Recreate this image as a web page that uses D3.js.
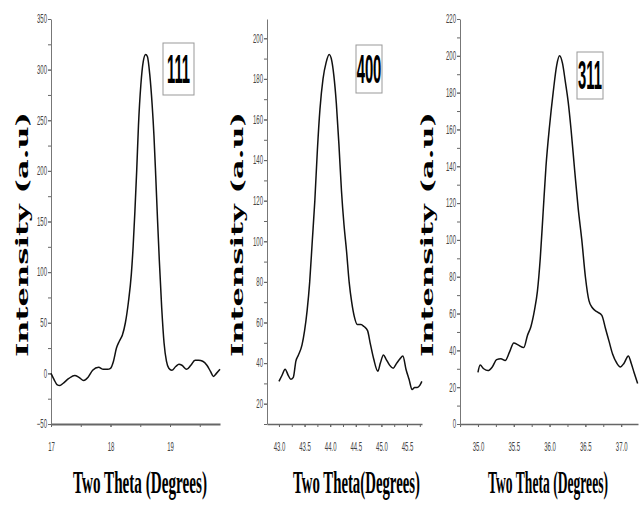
<!DOCTYPE html>
<html>
<head>
<meta charset="utf-8">
<script src="https://d3js.org/d3.v7.min.js"></script>
<style>
  body { margin: 0; background: #fff; }
</style>
</head>
<body>
<div id="chart"></div>
<script>
const width = 641
const height = 506

// (111) peak
const theta111 = [17.00, 17.05, 17.10, 17.15, 17.20, 17.30, 17.40, 17.47, 17.55, 17.62, 17.70, 17.80, 17.88, 17.95,
  18.00, 18.05, 18.10, 18.15, 18.20, 18.25, 18.30, 18.35, 18.38, 18.41, 18.44, 18.47, 18.51, 18.55, 18.59, 18.62,
  18.66, 18.70, 18.73, 18.76, 18.79, 18.82, 18.86, 18.90, 18.94, 18.98, 19.03, 19.10, 19.15, 19.20, 19.28, 19.35,
  19.42, 19.48, 19.55, 19.62, 19.68, 19.73, 19.78, 19.84];
const int111 = [0, -6, -11, -12, -10, -5, -2, -4, -7, -4, 3, 6, 4, 4,
  5, 12, 25, 32, 38, 50, 70, 98, 125, 160, 200, 245, 285, 308, 315, 313,
  295, 265, 235, 195, 152, 112, 65, 30, 12, 5, 3, 7, 9, 8, 4, 8,
  13, 13, 12, 8, 2, -3, 0, 4];

// (400) peak
const theta400 = [43.00, 43.06, 43.12, 43.18, 43.23, 43.28, 43.33, 43.38, 43.45, 43.50, 43.55, 43.60, 43.65, 43.70,
  43.75, 43.80, 43.86, 43.92, 43.98, 44.03, 44.07, 44.12, 44.17, 44.22, 44.27, 44.32, 44.37, 44.42, 44.47, 44.53,
  44.60, 44.66, 44.73, 44.78, 44.85, 44.93, 44.98, 45.04, 45.09, 45.16, 45.23, 45.30, 45.36, 45.42, 45.48, 45.54,
  45.60, 45.65, 45.70, 45.75, 45.79];
const int400 = [31, 34, 37, 34, 32, 33, 41, 44, 49, 56, 66, 80, 100, 120,
  145, 165, 180, 188, 192, 189, 182, 168, 148, 125, 108, 95, 80, 70, 63, 59,
  59, 58, 56, 50, 42, 36, 40, 44, 42, 39, 37.5, 40, 42, 43.5, 37, 32,
  27, 28, 28, 29, 31];

// (311) peak
const theta311 = [35.00, 35.03, 35.08, 35.14, 35.20, 35.26, 35.32, 35.38, 35.44, 35.50, 35.56, 35.64, 35.69, 35.74,
  35.79, 35.83, 35.87, 35.91, 35.95, 36.00, 36.05, 36.10, 36.14, 36.18, 36.22, 36.26, 36.30, 36.35, 36.40, 36.45,
  36.50, 36.55, 36.60, 36.66, 36.73, 36.78, 36.83, 36.88, 36.94, 36.99, 37.04, 37.10, 37.14, 37.18, 37.23];
const int311 = [28, 32, 30, 29, 31, 35, 35.5, 34.5, 39, 44, 43, 41.5, 48, 53,
  62, 72, 90, 115, 140, 162, 180, 195, 200, 196, 186, 175, 160, 138, 117, 100,
  80, 67, 63, 61, 59, 52, 45, 38, 33, 31, 33, 37, 33, 28, 22];

// axis ticks
const xTicks111 = [17, 18, 19];
const yTicks111 = [-50, 0, 50, 100, 150, 200, 250, 300, 350];
const xTicks400 = [43.0, 43.5, 44.0, 44.5, 45.0, 45.5];
const yTicks400 = [20, 40, 60, 80, 100, 120, 140, 160, 180, 200];
const xTicks311 = [35.0, 35.5, 36.0, 36.5, 37.0];
const yTicks311 = [0, 20, 40, 60, 80, 100, 120, 140, 160, 180, 200, 220];

const svg = d3.select("#chart")
  .append("svg")
  .attr("width", width)
  .attr("height", height)

// squeeze text horizontally about its anchor x (the original is a stretched scan)
function squeeze(sel, k) {
  sel.each(function () {
    const ax = +d3.select(this).attr("x") || 0;
    d3.select(this).attr("transform", `translate(${ax},0) scale(${k},1) translate(${-ax},0)`);
  });
}

// squeeze so the text fills a given width
function fitWidth(sel, w) {
  sel.each(function () {
    const k = w / this.getComputedTextLength();
    d3.select(this).call(squeeze, k);
  });
}

const panels = [
  { name: "111", xs: theta111, ys: int111, xDom: [17, 19.84], yDom: [-50, 350], xPx: [51, 220],
    xTicks: xTicks111, xMinor: 0.5, xFmt: d3.format("d"), yTicks: yTicks111, yMinor: 25, yFmt: d3.format("d"),
    box: [163, 43, 31, 52], xLab: [73, 134, "Two Theta (Degrees)"], yLabX: 28, axisW: 2 },
  { name: "400", xs: theta400, ys: int400, xDom: [42.766, 45.793], yDom: [10, 209.5], xPx: [267, 422],
    xTicks: xTicks400, xMinor: 0.25, xFmt: d3.format(".1f"), yTicks: yTicks400, yMinor: 10, yFmt: d3.format("d"),
    box: [356, 45, 26, 48], xLab: [293, 127, "Two Theta(Degrees)"], yLabX: 243, axisW: 1.5 },
  { name: "311", xs: theta311, ys: int311, xDom: [34.749, 37.235], yDom: [0, 220], xPx: [460, 638],
    xTicks: xTicks311, xMinor: 0.25, xFmt: d3.format(".1f"), yTicks: yTicks311, yMinor: 10, yFmt: d3.format("d"),
    box: [577, 52, 26, 47], xLab: [488, 120, "Two Theta (Degrees)"], yLabX: 433, axisW: 1.5 }
];

const yTop = 19, yBot = 424;

panels.forEach(p => {
  const x = d3.scaleLinear().domain(p.xDom).range(p.xPx);
  const y = d3.scaleLinear().domain(p.yDom).range([yBot, yTop]);
  const g = svg.append("g");

  const minorX = d3.range(Math.ceil(p.xDom[0] / p.xMinor) * p.xMinor, p.xDom[1], p.xMinor);
  const minorY = d3.range(Math.ceil(p.yDom[0] / p.yMinor) * p.yMinor, p.yDom[1] + 0.001, p.yMinor);

  // minor ticks
  g.append("g")
    .attr("transform", `translate(0,${yBot})`)
    .call(d3.axisBottom(x).tickValues(minorX).tickSize(3).tickFormat("").tickSizeOuter(0))
    .call(a => a.select(".domain").remove())
    .selectAll("line").attr("stroke", "#666");
  g.append("g")
    .attr("transform", `translate(${p.xPx[0]},0)`)
    .call(d3.axisLeft(y).tickValues(minorY).tickSize(3).tickFormat("").tickSizeOuter(0))
    .call(a => a.select(".domain").remove())
    .selectAll("line").attr("stroke", "#666");

  // major ticks + labels
  const xa = g.append("g")
    .attr("transform", `translate(0,${yBot})`)
    .call(d3.axisBottom(x).tickValues(p.xTicks).tickFormat(p.xFmt).tickSize(3).tickPadding(15).tickSizeOuter(0));
  xa.select(".domain").attr("stroke", "#666").attr("stroke-width", p.axisW);
  xa.selectAll("line").attr("stroke", "#666");
  xa.selectAll("text")
    .attr("font-family", "Liberation Sans, Arial, sans-serif")
    .attr("font-size", 12)
    .attr("fill", "#444")
    .call(squeeze, 0.5);

  const ya = g.append("g")
    .attr("transform", `translate(${p.xPx[0]},0)`)
    .call(d3.axisLeft(y).tickValues(p.yTicks).tickFormat(p.yFmt).tickSize(3).tickPadding(1).tickSizeOuter(0));
  ya.select(".domain").attr("stroke", "#777").attr("stroke-width", 1);
  ya.selectAll("line").attr("stroke", "#666");
  ya.selectAll("text")
    .attr("font-family", "Liberation Sans, Arial, sans-serif")
    .attr("font-size", 12)
    .attr("fill", "#444")
    .call(squeeze, 0.5);

  // data line
  const line = d3.line()
    .x((d, i) => x(p.xs[i]))
    .y(d => y(d))
    .curve(d3.curveMonotoneX);
  g.append("path")
    .datum(p.ys)
    .attr("d", line)
    .attr("fill", "none")
    .attr("stroke", "#111")
    .attr("stroke-width", 1.5);

  // peak label box
  g.append("rect")
    .attr("x", p.box[0])
    .attr("y", p.box[1])
    .attr("width", p.box[2])
    .attr("height", p.box[3])
    .attr("fill", "#fff")
    .attr("stroke", "#999")
    .attr("stroke-width", 1);
  g.append("text")
    .attr("x", p.box[0] + p.box[2] / 2)
    .attr("y", p.box[1] + p.box[3] / 2 + 14)
    .attr("text-anchor", "middle")
    .attr("font-family", "Liberation Sans, Arial, sans-serif")
    .attr("font-weight", "bold")
    .attr("font-size", 40)
    .attr("fill", "#000")
    .text(p.name)
    .call(squeeze, 0.37);

  // x axis title
  g.append("text")
    .attr("x", p.xLab[0])
    .attr("y", 493)
    .attr("font-family", "Liberation Serif, Times New Roman, serif")
    .attr("font-weight", "bold")
    .attr("font-size", 32)
    .attr("fill", "#000")
    .text(p.xLab[2])
    .call(fitWidth, p.xLab[1]);

  // y axis title
  g.append("text")
    .attr("transform", `translate(${p.yLabX},${(112 + 357) / 2}) rotate(-90)`)
    .attr("text-anchor", "middle")
    .attr("font-family", "DejaVu Serif, serif")
    .attr("font-weight", "bold")
    .attr("font-size", 17)
    .attr("fill", "#000")
    .attr("textLength", 245)
    .attr("lengthAdjust", "spacingAndGlyphs")
    .text("Intensity (a.u)");
});
</script>
</body>
</html>
